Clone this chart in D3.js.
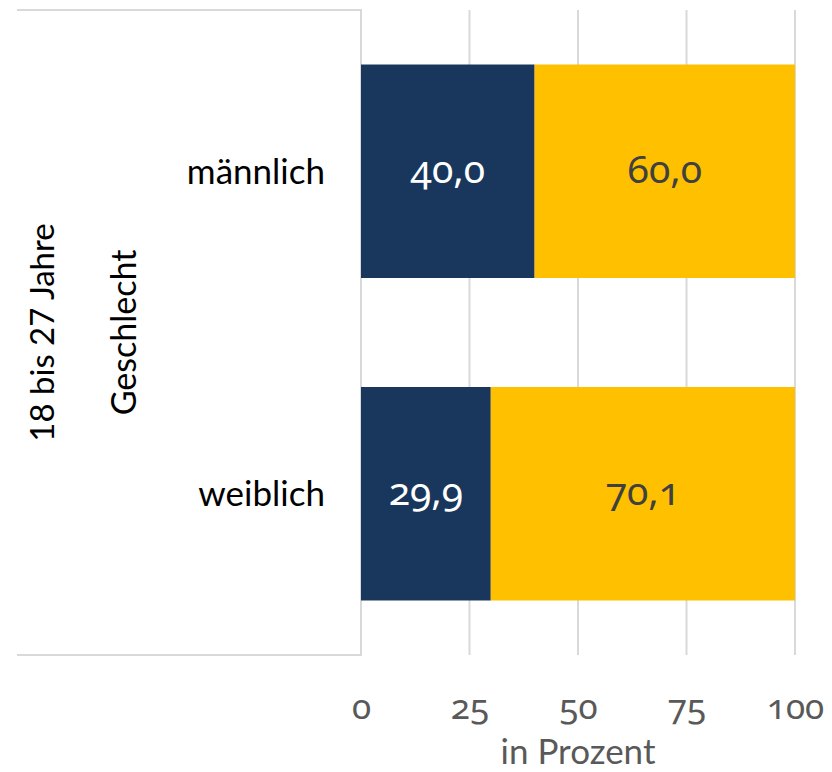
<!DOCTYPE html>
<html><head><meta charset="utf-8">
<script src="https://cdn.jsdelivr.net/npm/d3@7"></script>
<style>
body{margin:0;background:#fff;}
svg text{font-family:Lato,"Open Sans",sans-serif;}
.num{font-family:"Noto Sans",sans-serif !important;font-variant-numeric:oldstyle-nums;font-feature-settings:"onum" 1;}
</style></head><body>
<svg id="c" width="832" height="772"></svg>
<script>
const categories = ["männlich", "weiblich"];
const groupLabel = "Geschlecht";
const outerLabel = "18 bis 27 Jahre";
const seriesNames = ["Ja", "Nein"];
const seriesA = [40.0, 29.9];
const seriesB = [60.0, 70.1];
const ticks = [0, 25, 50, 75, 100];
const xTitle = "in Prozent";
const colors = ["#19375C", "#FFC000"];
const labelColors = ["#ffffff", "#404040"];

const svg = d3.select("#c");
const L = 361, R = 795, T = 10, B = 655;
const x = d3.scaleLinear().domain([0, 100]).range([L, R]);
const y = d3.scaleBand().domain(categories).range([T, B]).paddingInner(0.338).paddingOuter(0.169);

// gridlines
svg.append("g").selectAll("line").data(ticks.filter(t => t > 0)).join("line")
  .attr("x1", d => x(d)).attr("x2", d => x(d)).attr("y1", T).attr("y2", B)
  .attr("stroke", "#d9d9d9").attr("stroke-width", 2);

// category frame lines
svg.append("line").attr("x1", 17).attr("x2", L).attr("y1", T).attr("y2", T).attr("stroke", "#d9d9d9").attr("stroke-width", 2);
svg.append("line").attr("x1", 17).attr("x2", L).attr("y1", B).attr("y2", B).attr("stroke", "#d9d9d9").attr("stroke-width", 2);
svg.append("line").attr("x1", L).attr("x2", L).attr("y1", T - 1).attr("y2", B + 1).attr("stroke", "#d9d9d9").attr("stroke-width", 2);

const data = categories.map((c, i) => ({cat: c, a: seriesA[i], b: seriesB[i]}));
const stack = d3.stack().keys(["a", "b"])(data);

const g = svg.append("g");
stack.forEach((s, si) => {
  g.append("g").selectAll("rect").data(s).join("rect")
    .attr("x", d => x(d[0])).attr("width", d => x(d[1]) - x(d[0]))
    .attr("y", d => y(d.data.cat)).attr("height", y.bandwidth())
    .attr("fill", colors[si]);
  g.append("g").selectAll("text").data(s).join("text")
    .attr("class", "num")
    .attr("x", d => (x(d[0]) + x(d[1])) / 2)
    .attr("y", d => y(d.data.cat) + y.bandwidth() / 2)
    .attr("dy", "0.3em").attr("text-anchor", "middle")
    .attr("font-size", 39).attr("fill", labelColors[si])
    .text(d => d3.format(".1f")(d[1] - d[0]).replace(".", ","));
});

// category labels
svg.append("g").selectAll("text").data(categories).join("text")
  .attr("x", 325).attr("y", d => y(d) + y.bandwidth() / 2).attr("dy", "0.35em")
  .attr("text-anchor", "end").attr("font-size", 35).attr("fill", "#000")
  .text(d => d);

svg.append("text").attr("transform", `translate(124,${(T + B) / 2}) rotate(-90)`)
  .attr("dy", "0.35em").attr("text-anchor", "middle").attr("font-size", 34).attr("fill", "#000")
  .text(groupLabel);
svg.append("text").attr("transform", `translate(42,${(T + B) / 2}) rotate(-90)`)
  .attr("dy", "0.35em").attr("text-anchor", "middle").attr("font-size", 33).attr("fill", "#000")
  .text(outerLabel);

// x axis tick labels
const ax = d3.axisBottom(x).tickValues(ticks).tickSize(0).tickPadding(0).tickFormat(d3.format("d"));
const axg = svg.append("g").attr("transform", `translate(0,${B})`).call(ax);
axg.select(".domain").remove();
axg.selectAll("text").attr("class", "num").attr("font-size", 35).attr("fill", "#595959")
  .attr("y", 53).attr("dy", "0.3em");

svg.append("text").attr("x", (L + R) / 2).attr("y", 752).attr("dy", "0.35em")
  .attr("text-anchor", "middle").attr("font-size", 35).attr("fill", "#595959").text(xTitle);
</script></body></html>
